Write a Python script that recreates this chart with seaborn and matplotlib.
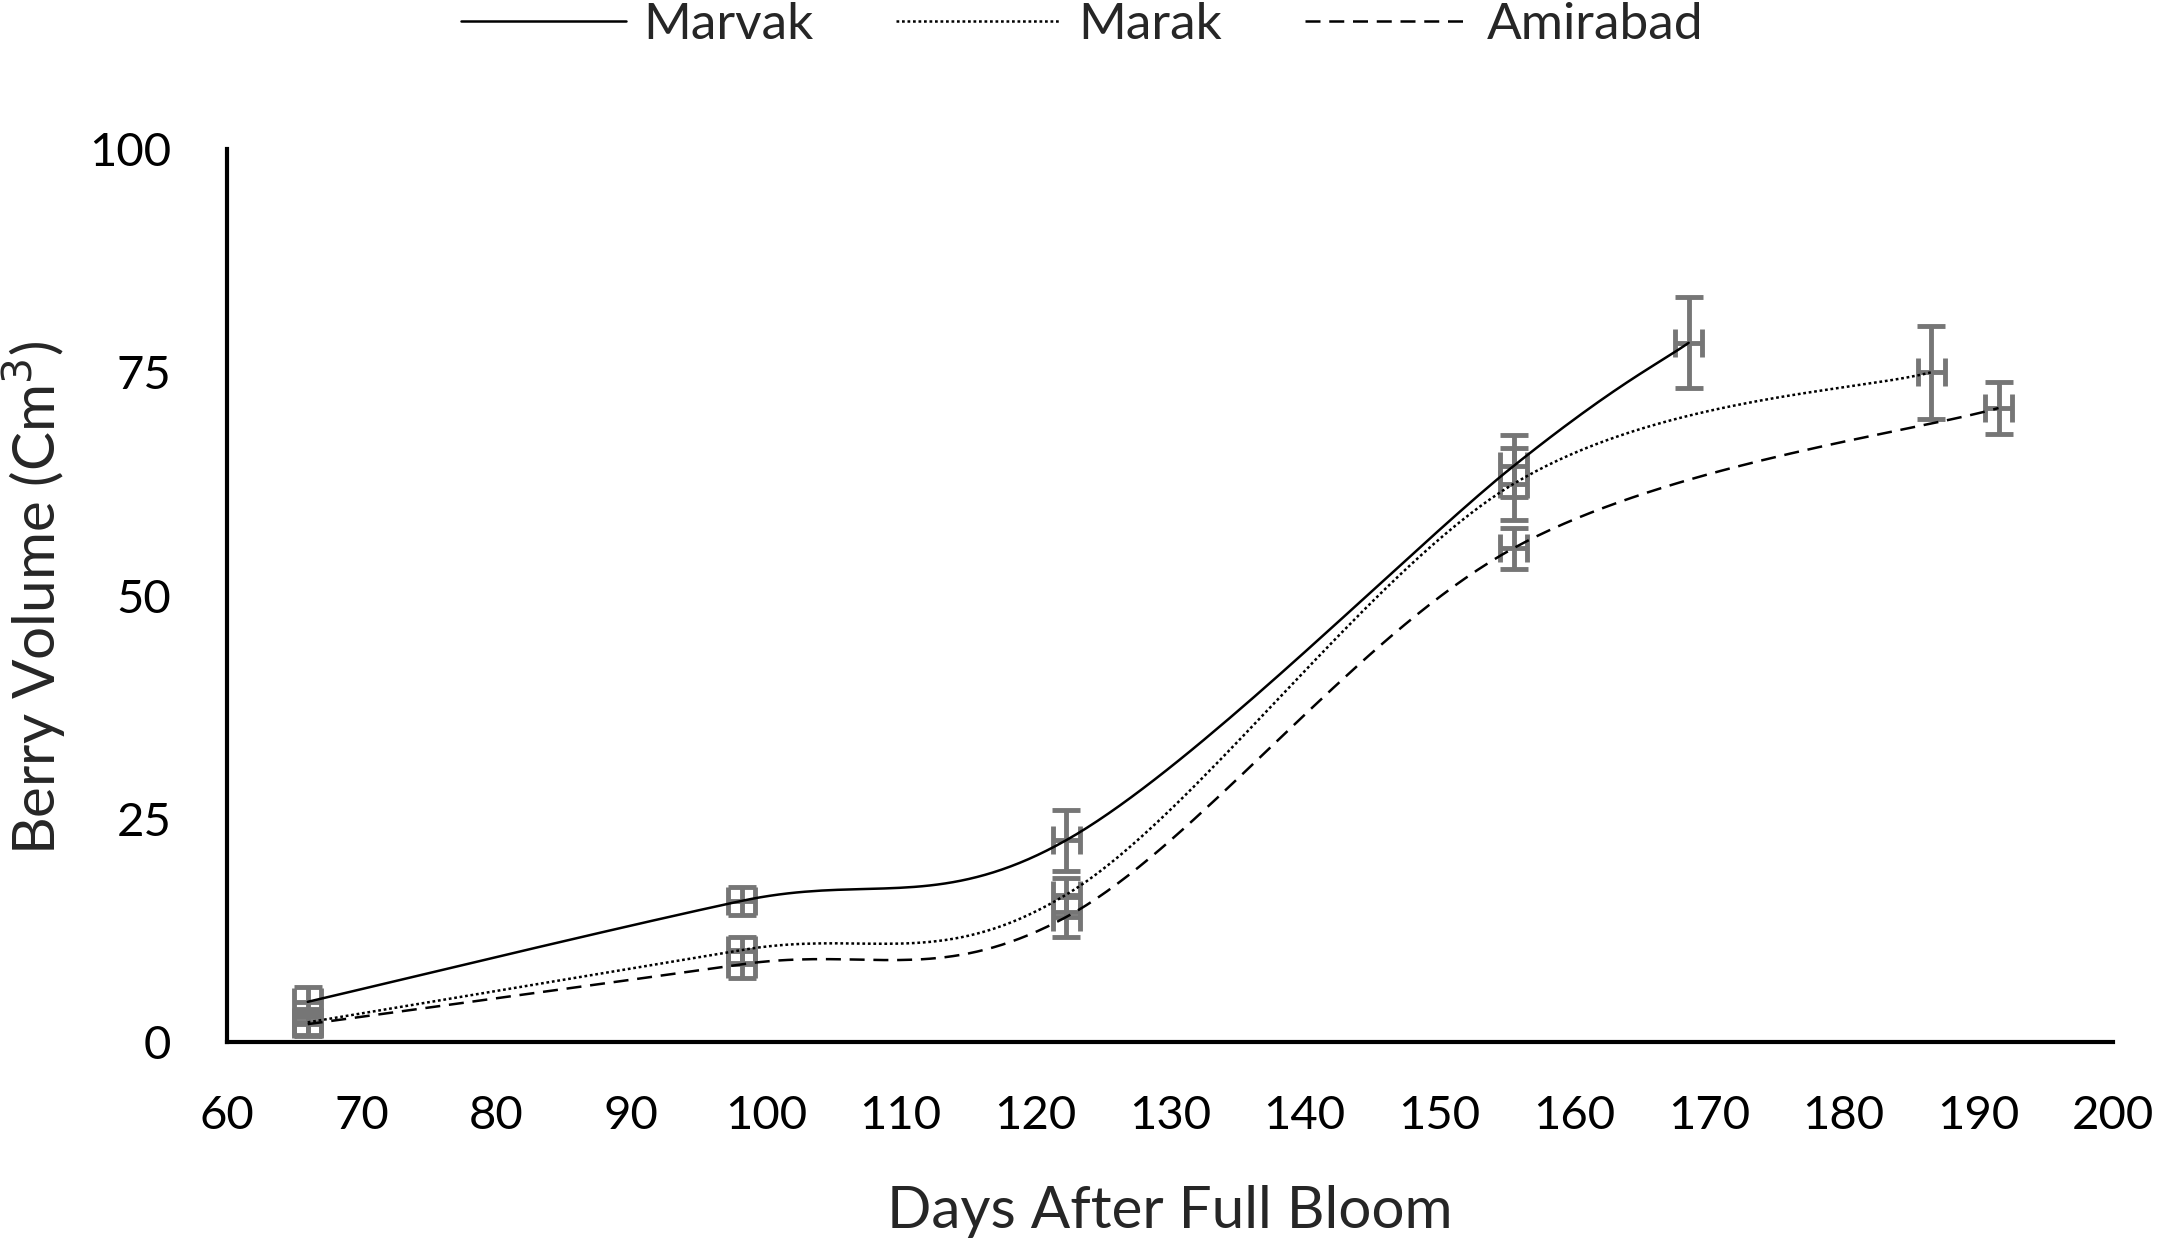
import numpy as np
import pandas as pd
import matplotlib
matplotlib.use('Agg')
import matplotlib.pyplot as plt
import seaborn as sns

# data
marvak_days = [66, 98.2, 122.3, 155.5, 168.5]
marvak_vol = [4.5, 15.8, 22.6, 64.5, 78.3]
marvak_err = [1.7, 1.6, 3.4, 3.5, 5.1]

marak_days = [66, 98.2, 122.3, 155.5, 186.5]
marak_vol = [2.2, 10.3, 16.5, 62.5, 75.0]
marak_err = [1.5, 1.5, 1.9, 4.0, 5.2]

amirabad_days = [66, 98.2, 122.3, 155.5, 191.5]
amirabad_vol = [2.0, 8.7, 14.0, 55.3, 71.0]
amirabad_err = [1.2, 1.5, 2.2, 2.3, 2.9]

day_err = 1.0
names = ['Marvak', 'Marak', 'Amirabad']


def smooth(xs, ys, n=40):
    # excel-like smoothed line (catmull-rom as cubic bezier)
    p = np.column_stack([xs, ys]).astype(float)
    p = np.vstack([p[0], p, p[-1]])
    out = []
    t = np.linspace(0, 1, n)[:, None]
    for i in range(1, len(p) - 2):
        b0 = p[i]
        b3 = p[i + 1]
        b1 = b0 + (p[i + 1] - p[i - 1]) / 6
        b2 = b3 - (p[i + 2] - p[i]) / 6
        seg = ((1 - t) ** 3) * b0 + 3 * ((1 - t) ** 2) * t * b1 + 3 * (1 - t) * t ** 2 * b2 + t ** 3 * b3
        out.append(seg if i == 1 else seg[1:])
    return np.vstack(out)


sns.set_style('white')
plt.rcParams['font.family'] = ['Lato', 'DejaVu Sans']

fig = plt.figure(figsize=(21.65, 12.43), dpi=100)
ax = fig.add_axes([0.1048, 0.1617, 0.8712, 0.7184])

series = [(marvak_days, marvak_vol, marvak_err),
          (marak_days, marak_vol, marak_err),
          (amirabad_days, amirabad_vol, amirabad_err)]

# error bars first so the lines sit on top
for d, v, e in series:
    ax.errorbar(d, v, yerr=e, xerr=day_err, fmt='none', ecolor='#767676',
                elinewidth=3.5, capsize=10, capthick=3.5, zorder=1)

frames = []
for name, (d, v, e) in zip(names, series):
    s = smooth(d, v)
    frames.append(pd.DataFrame({'day': s[:, 0], 'vol': s[:, 1], 'Cultivar': name}))
df = pd.concat(frames, ignore_index=True)

styles = {'Marvak': '-', 'Marak': (0, (1.1, 1.1)), 'Amirabad': (0, (6, 3.5))}
for name in names:
    sub = df[df['Cultivar'] == name]
    sns.lineplot(data=sub, x='day', y='vol', sort=False, estimator=None,
                 color='black', linewidth=1.8, linestyle=styles[name],
                 label=name, ax=ax, zorder=3)

ax.set_xlim(60, 200)
ax.set_ylim(0, 100)
ax.set_xticks(range(60, 201, 10))
ax.set_yticks([0, 25, 50, 75, 100])
ax.tick_params(length=0, labelsize=34, colors='black')
ax.tick_params(axis='y', pad=40)
ax.tick_params(axis='x', pad=38)
for side in ['top', 'right']:
    ax.spines[side].set_visible(False)
for side in ['left', 'bottom']:
    ax.spines[side].set_color('black')
    ax.spines[side].set_linewidth(3)

ax.set_xlabel('Days After Full Bloom', fontsize=42, va='center')
ax.set_ylabel('Berry Volume (Cm$^3$)', fontsize=42, va='center')
ax.xaxis.set_label_coords(0.5, -0.19)
ax.yaxis.set_label_coords(-0.102, 0.498)

ax.get_legend().remove()
handles, labels = ax.get_legend_handles_labels()
fig.legend(handles, labels, loc='center', bbox_to_anchor=(0.5, 1 - 25 / 1243),
           ncol=3, frameon=False, fontsize=37, handlelength=3.2,
           handletextpad=0.35, columnspacing=1.6)

plt.savefig('out.png', dpi=100)
